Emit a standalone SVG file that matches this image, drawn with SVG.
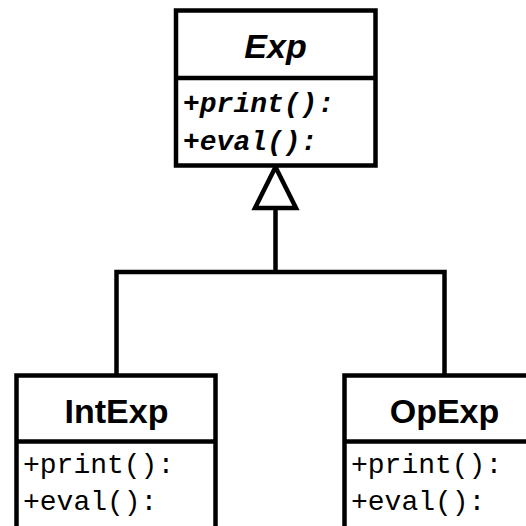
<svg xmlns="http://www.w3.org/2000/svg" width="526" height="526" viewBox="0 0 526 526">
  <style>
    .box { fill: #fff; stroke: #000; stroke-width: 4.5; }
    .sep { stroke: #000; stroke-width: 4.5; }
    .edge { fill: none; stroke: #000; stroke-width: 4.5; }
    .head { fill: #fff; stroke: #000; stroke-width: 4.5; stroke-linejoin: miter; }
    .title { font-family: "Liberation Sans", Arial, sans-serif; font-weight: bold; font-size: 34px; text-anchor: middle; fill: #000; }
    .abstract { font-style: italic; }
    .op { font-family: "Liberation Mono", "Courier New", monospace; font-size: 28px; fill: #000; }
    .op-abstract { font-weight: bold; font-style: italic; }
  </style>
  <rect width="526" height="526" fill="#fff"/>

  <g id="connectors">
    <path class="edge" d="M275.5,208 V272 M116.5,375.5 V272 H444.5 V375.5"/>
    <polygon class="head" points="275.5,167 255,208 296,208"/>
  </g>

  <g id="Exp">
    <rect class="box" x="176" y="10.5" width="199.5" height="155"/>
    <line class="sep" x1="176" y1="78" x2="375.5" y2="78"/>
    <text class="title abstract" x="275.5" y="58">Exp</text>
    <text class="op op-abstract" x="183" y="112">+print():</text>
    <text class="op op-abstract" x="183" y="150">+eval():</text>
  </g>

  <g id="IntExp">
    <rect class="box" x="16.5" y="375.5" width="199" height="170"/>
    <line class="sep" x1="16.5" y1="441.5" x2="215.5" y2="441.5"/>
    <text class="title" x="116.5" y="423">IntExp</text>
    <text class="op" x="23" y="473">+print():</text>
    <text class="op" x="23" y="510">+eval():</text>
  </g>

  <g id="OpExp">
    <rect class="box" x="344.5" y="375.5" width="200" height="170"/>
    <line class="sep" x1="344.5" y1="441.5" x2="544.5" y2="441.5"/>
    <text class="title" x="444.5" y="423">OpExp</text>
    <text class="op" x="351" y="473">+print():</text>
    <text class="op" x="351" y="510">+eval():</text>
  </g>
</svg>
